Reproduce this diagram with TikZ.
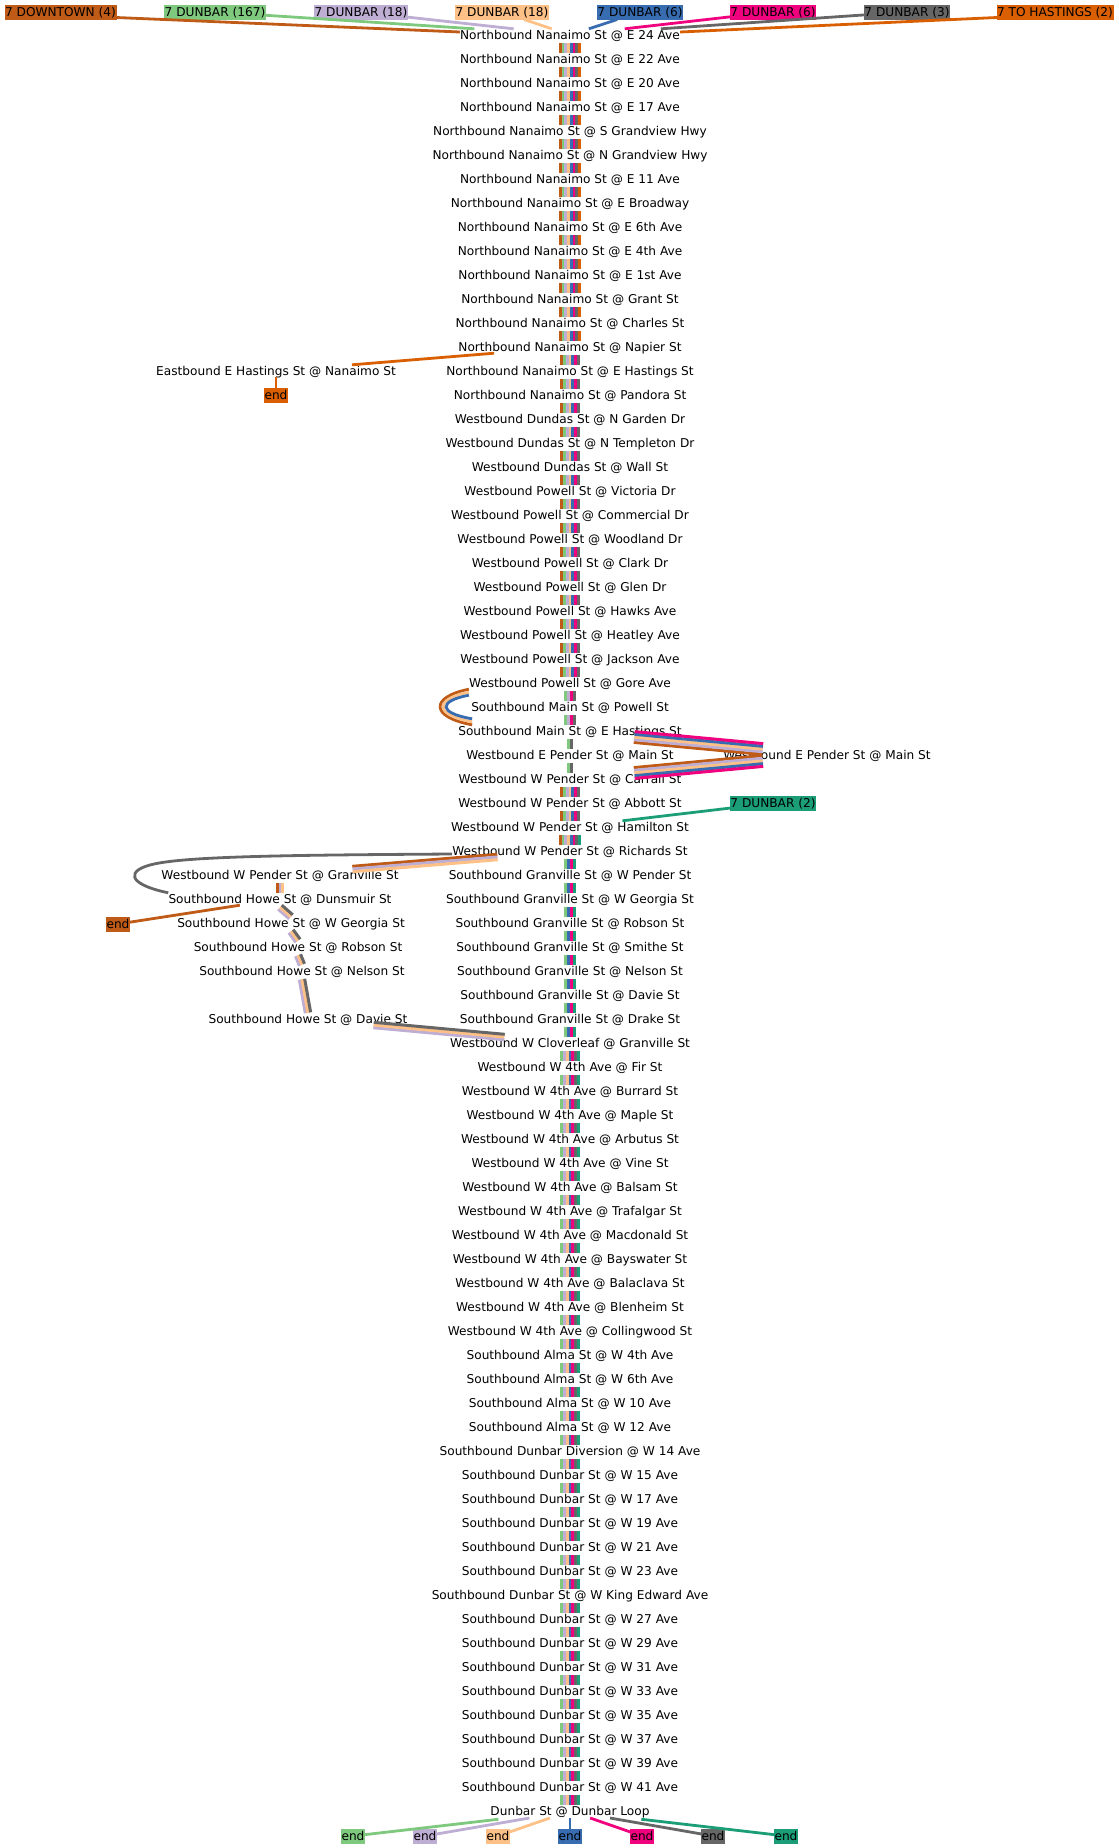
\documentclass[tikz,border=0pt]{standalone}
\usepackage{fontspec}
\setmainfont{DejaVu Sans}
\usetikzlibrary{calc}
\definecolor{cbrown}{HTML}{BF5B17}
\definecolor{cgreen}{HTML}{7FC97F}
\definecolor{clilac}{HTML}{BEAED4}
\definecolor{cpeach}{HTML}{FDC086}
\definecolor{cblue}{HTML}{386CB0}
\definecolor{cpink}{HTML}{F0027F}
\definecolor{cgray}{HTML}{666666}
\definecolor{corange}{HTML}{D95F02}
\definecolor{cteal}{HTML}{1B9E77}
\def\seteight{cbrown,cgreen,clilac,cpeach,cblue,cpink,cgray,corange}
\def\setseven{cbrown,cgreen,clilac,cpeach,cblue,cpink,cgray}
\def\setnine{cbrown,cgreen,clilac,cpeach,cblue,cpink,cgray,cteal}
\def\setfour{cgreen,clilac,cpink,cgray}
\def\settwo{cgreen,cgray}
\def\setgranville{cgreen,cblue,cpink,cteal}
\def\setdunbar{cgreen,clilac,cpeach,cblue,cpink,cgray,cteal}
\newcommand{\ribbon}[4]{
\foreach \c [count=\i] in #4 {
\pgfmathsetmacro{\off}{(\i-(#3+1)/2)*2.7}
\draw[stripe,\c] ($(#1)!\off pt!90:(#2)$) -- ($(#2)!\off pt!-90:(#1)$);
}
}
\newcommand{\stub}[4]{
\coordinate (p) at ([yshift=-2pt]#1.south);
\coordinate (q) at (#2.north);
\ribbon{p}{q}{#3}{#4}
}
\newcommand{\band}[4]{
\coordinate (p) at ($(#1)!.25!(#2)$);
\coordinate (q) at ($(#1)!.75!(#2)$);
\ribbon{p}{q}{#3}{#4}
}
\begin{document}
\begin{tikzpicture}[x=1pt,y=-1pt]
\tikzset{stopnode/.style={inner sep=0pt, minimum height=12pt, text height=10.2pt, text depth=1.8pt, font=\fontsize{12.15pt}{14pt}\selectfont}}
\tikzset{termbox/.style={stopnode, fill=#1, draw=#1, line width=0.5pt, inner xsep=0pt, minimum height=14.5pt}}
\tikzset{stripe/.style={line width=3pt}}
\tikzset{conn/.style={line width=2.8pt}}
\useasboundingbox (0,0) rectangle (1119,1848);
\node[termbox=cbrown] (T1) at (60.5,12) {7 DOWNTOWN (4)};
\node[termbox=cgreen] (T2) at (215,12) {7 DUNBAR (167)};
\node[termbox=clilac] (T3) at (361,12) {7 DUNBAR (18)};
\node[termbox=cpeach] (T4) at (502,12) {7 DUNBAR (18)};
\node[termbox=cblue] (T5) at (640,12) {7 DUNBAR (6)};
\node[termbox=cpink] (T6) at (773,12) {7 DUNBAR (6)};
\node[termbox=cgray] (T7) at (907,12) {7 DUNBAR (3)};
\node[termbox=corange] (T8) at (1055,12) {7 TO HASTINGS (2)};
\node[stopnode] (S1) at (570,35) {Northbound Nanaimo St @ E 24 Ave};
\node[stopnode] (S2) at (570,59) {Northbound Nanaimo St @ E 22 Ave};
\node[stopnode] (S3) at (570,83) {Northbound Nanaimo St @ E 20 Ave};
\node[stopnode] (S4) at (570,107) {Northbound Nanaimo St @ E 17 Ave};
\node[stopnode] (S5) at (570,131) {Northbound Nanaimo St @ S Grandview Hwy};
\node[stopnode] (S6) at (570,155) {Northbound Nanaimo St @ N Grandview Hwy};
\node[stopnode] (S7) at (570,179) {Northbound Nanaimo St @ E 11 Ave};
\node[stopnode] (S8) at (570,203) {Northbound Nanaimo St @ E Broadway};
\node[stopnode] (S9) at (570,227) {Northbound Nanaimo St @ E 6th Ave};
\node[stopnode] (S10) at (570,251) {Northbound Nanaimo St @ E 4th Ave};
\node[stopnode] (S11) at (570,275) {Northbound Nanaimo St @ E 1st Ave};
\node[stopnode] (S12) at (570,299) {Northbound Nanaimo St @ Grant St};
\node[stopnode] (S13) at (570,323) {Northbound Nanaimo St @ Charles St};
\node[stopnode] (S14) at (570,347) {Northbound Nanaimo St @ Napier St};
\node[stopnode] (S15) at (570,371) {Northbound Nanaimo St @ E Hastings St};
\node[stopnode] (S16) at (570,395) {Northbound Nanaimo St @ Pandora St};
\node[stopnode] (S17) at (570,419) {Westbound Dundas St @ N Garden Dr};
\node[stopnode] (S18) at (570,443) {Westbound Dundas St @ N Templeton Dr};
\node[stopnode] (S19) at (570,467) {Westbound Dundas St @ Wall St};
\node[stopnode] (S20) at (570,491) {Westbound Powell St @ Victoria Dr};
\node[stopnode] (S21) at (570,515) {Westbound Powell St @ Commercial Dr};
\node[stopnode] (S22) at (570,539) {Westbound Powell St @ Woodland Dr};
\node[stopnode] (S23) at (570,563) {Westbound Powell St @ Clark Dr};
\node[stopnode] (S24) at (570,587) {Westbound Powell St @ Glen Dr};
\node[stopnode] (S25) at (570,611) {Westbound Powell St @ Hawks Ave};
\node[stopnode] (S26) at (570,635) {Westbound Powell St @ Heatley Ave};
\node[stopnode] (S27) at (570,659) {Westbound Powell St @ Jackson Ave};
\node[stopnode] (S28) at (570,683) {Westbound Powell St @ Gore Ave};
\node[stopnode] (S29) at (570,707) {Southbound Main St @ Powell St};
\node[stopnode] (S30) at (570,731) {Southbound Main St @ E Hastings St};
\node[stopnode] (S31) at (570,755) {Westbound E Pender St @ Main St};
\node[stopnode] (S32) at (570,779) {Westbound W Pender St @ Carrall St};
\node[stopnode] (S33) at (570,803) {Westbound W Pender St @ Abbott St};
\node[stopnode] (S34) at (570,827) {Westbound W Pender St @ Hamilton St};
\node[stopnode] (S35) at (570,851) {Westbound W Pender St @ Richards St};
\node[stopnode] (S36) at (570,875) {Southbound Granville St @ W Pender St};
\node[stopnode] (S37) at (570,899) {Southbound Granville St @ W Georgia St};
\node[stopnode] (S38) at (570,923) {Southbound Granville St @ Robson St};
\node[stopnode] (S39) at (570,947) {Southbound Granville St @ Smithe St};
\node[stopnode] (S40) at (570,971) {Southbound Granville St @ Nelson St};
\node[stopnode] (S41) at (570,995) {Southbound Granville St @ Davie St};
\node[stopnode] (S42) at (570,1019) {Southbound Granville St @ Drake St};
\node[stopnode] (S43) at (570,1043) {Westbound W Cloverleaf @ Granville St};
\node[stopnode] (S44) at (570,1067) {Westbound W 4th Ave @ Fir St};
\node[stopnode] (S45) at (570,1091) {Westbound W 4th Ave @ Burrard St};
\node[stopnode] (S46) at (570,1115) {Westbound W 4th Ave @ Maple St};
\node[stopnode] (S47) at (570,1139) {Westbound W 4th Ave @ Arbutus St};
\node[stopnode] (S48) at (570,1163) {Westbound W 4th Ave @ Vine St};
\node[stopnode] (S49) at (570,1187) {Westbound W 4th Ave @ Balsam St};
\node[stopnode] (S50) at (570,1211) {Westbound W 4th Ave @ Trafalgar St};
\node[stopnode] (S51) at (570,1235) {Westbound W 4th Ave @ Macdonald St};
\node[stopnode] (S52) at (570,1259) {Westbound W 4th Ave @ Bayswater St};
\node[stopnode] (S53) at (570,1283) {Westbound W 4th Ave @ Balaclava St};
\node[stopnode] (S54) at (570,1307) {Westbound W 4th Ave @ Blenheim St};
\node[stopnode] (S55) at (570,1331) {Westbound W 4th Ave @ Collingwood St};
\node[stopnode] (S56) at (570,1355) {Southbound Alma St @ W 4th Ave};
\node[stopnode] (S57) at (570,1379) {Southbound Alma St @ W 6th Ave};
\node[stopnode] (S58) at (570,1403) {Southbound Alma St @ W 10 Ave};
\node[stopnode] (S59) at (570,1427) {Southbound Alma St @ W 12 Ave};
\node[stopnode] (S60) at (570,1451) {Southbound Dunbar Diversion @ W 14 Ave};
\node[stopnode] (S61) at (570,1475) {Southbound Dunbar St @ W 15 Ave};
\node[stopnode] (S62) at (570,1499) {Southbound Dunbar St @ W 17 Ave};
\node[stopnode] (S63) at (570,1523) {Southbound Dunbar St @ W 19 Ave};
\node[stopnode] (S64) at (570,1547) {Southbound Dunbar St @ W 21 Ave};
\node[stopnode] (S65) at (570,1571) {Southbound Dunbar St @ W 23 Ave};
\node[stopnode] (S66) at (570,1595) {Southbound Dunbar St @ W King Edward Ave};
\node[stopnode] (S67) at (570,1619) {Southbound Dunbar St @ W 27 Ave};
\node[stopnode] (S68) at (570,1643) {Southbound Dunbar St @ W 29 Ave};
\node[stopnode] (S69) at (570,1667) {Southbound Dunbar St @ W 31 Ave};
\node[stopnode] (S70) at (570,1691) {Southbound Dunbar St @ W 33 Ave};
\node[stopnode] (S71) at (570,1715) {Southbound Dunbar St @ W 35 Ave};
\node[stopnode] (S72) at (570,1739) {Southbound Dunbar St @ W 37 Ave};
\node[stopnode] (S73) at (570,1763) {Southbound Dunbar St @ W 39 Ave};
\node[stopnode] (S74) at (570,1787) {Southbound Dunbar St @ W 41 Ave};
\node[stopnode] (S75) at (570,1811) {Dunbar St @ Dunbar Loop};
\node[stopnode] (H1) at (276,371) {Eastbound E Hastings St @ Nanaimo St};
\node[termbox=corange] (X1) at (276,395) {end};
\node[stopnode] (P1) at (827,755) {Westbound E Pender St @ Main St};
\node[termbox=cteal] (T9) at (773,803) {7 DUNBAR (2)};
\node[stopnode] (W1) at (280,875) {Westbound W Pender St @ Granville St};
\node[stopnode] (W2) at (280,899) {Southbound Howe St @ Dunsmuir St};
\node[stopnode] (W3) at (291,923) {Southbound Howe St @ W Georgia St};
\node[stopnode] (W4) at (298,947) {Southbound Howe St @ Robson St};
\node[stopnode] (W5) at (302,971) {Southbound Howe St @ Nelson St};
\node[stopnode] (W6) at (308,1019) {Southbound Howe St @ Davie St};
\node[termbox=cbrown] (X2) at (118,924) {end};
\node[termbox=cgreen] (E1) at (353,1836) {end};
\node[termbox=clilac] (E2) at (425,1836) {end};
\node[termbox=cpeach] (E3) at (498,1836) {end};
\node[termbox=cblue] (E4) at (570,1836) {end};
\node[termbox=cpink] (E5) at (642,1836) {end};
\node[termbox=cgray] (E6) at (713,1836) {end};
\node[termbox=cteal] (E7) at (786,1836) {end};
\coordinate (L1) at (154,864);
\draw[conn,cbrown] ([yshift=2pt]T1.south east) -- ([yshift=3pt]S1.west);
\draw[conn,cgreen] (T2) -- (S1);
\draw[conn,clilac] (T3) -- (S1);
\draw[conn,cpeach] (T4) -- (S1);
\draw[conn,cblue] (T5) -- (S1);
\draw[conn,cpink] (T6) -- (S1);
\draw[conn,cgray] (T7) -- (S1);
\draw[conn,corange] ([yshift=2pt]T8.south west) -- ([yshift=3pt]S1.east);
\stub{S1}{S2}{8}{\seteight}
\stub{S2}{S3}{8}{\seteight}
\stub{S3}{S4}{8}{\seteight}
\stub{S4}{S5}{8}{\seteight}
\stub{S5}{S6}{8}{\seteight}
\stub{S6}{S7}{8}{\seteight}
\stub{S7}{S8}{8}{\seteight}
\stub{S8}{S9}{8}{\seteight}
\stub{S9}{S10}{8}{\seteight}
\stub{S10}{S11}{8}{\seteight}
\stub{S11}{S12}{8}{\seteight}
\stub{S12}{S13}{8}{\seteight}
\stub{S13}{S14}{8}{\seteight}
\draw[conn,corange] (S14) -- (H1);
\draw[conn,corange] (H1) -- (X1);
\stub{S14}{S15}{7}{\setseven}
\stub{S15}{S16}{7}{\setseven}
\stub{S16}{S17}{7}{\setseven}
\stub{S17}{S18}{7}{\setseven}
\stub{S18}{S19}{7}{\setseven}
\stub{S19}{S20}{7}{\setseven}
\stub{S20}{S21}{7}{\setseven}
\stub{S21}{S22}{7}{\setseven}
\stub{S22}{S23}{7}{\setseven}
\stub{S23}{S24}{7}{\setseven}
\stub{S24}{S25}{7}{\setseven}
\stub{S25}{S26}{7}{\setseven}
\stub{S26}{S27}{7}{\setseven}
\stub{S27}{S28}{7}{\setseven}
\stub{S28}{S29}{4}{\setfour}
\stub{S29}{S30}{4}{\setfour}
\draw[conn,cbrown] (S28.south west) .. controls (430,697) and (430,717) .. ([xshift=14pt]S30.north west);
\draw[conn,cpeach] ([yshift=-3pt]S28.south west) .. controls (434,699) and (434,715) .. ([xshift=14pt,yshift=3pt]S30.north west);
\draw[conn,cblue] ([yshift=-6pt]S28.south west) .. controls (438,701) and (438,713) .. ([xshift=14pt,yshift=6pt]S30.north west);
\stub{S30}{S31}{2}{\settwo}
\stub{S31}{S32}{2}{\settwo}
\band{S30}{P1}{5}{{cbrown,clilac,cpeach,cblue,cpink}}
\band{P1}{S32}{5}{{cbrown,clilac,cpeach,cblue,cpink}}
\stub{S32}{S33}{7}{\setseven}
\stub{S33}{S34}{7}{\setseven}
\draw[conn,cteal] (T9) -- (S34);
\stub{S34}{S35}{8}{\setnine}
\draw[conn,cgray] ([yshift=-3pt]S35.west) .. controls (300,855) and (190,856) .. (L1) .. controls (126,870) and (126,884) .. (W2.north west);
\band{S35}{W1}{3}{{cbrown,clilac,cpeach}}
\stub{W1}{W2}{3}{{cbrown,clilac,cpeach}}
\draw[conn,cbrown] (W2) -- (X2);
\stub{W2}{W3}{3}{{clilac,cpeach,cgray}}
\stub{W3}{W4}{3}{{clilac,cpeach,cgray}}
\stub{W4}{W5}{3}{{clilac,cpeach,cgray}}
\stub{W5}{W6}{3}{{clilac,cpeach,cgray}}
\band{W6}{S43}{3}{{clilac,cpeach,cgray}}
\stub{S35}{S36}{4}{\setgranville}
\stub{S36}{S37}{4}{\setgranville}
\stub{S37}{S38}{4}{\setgranville}
\stub{S38}{S39}{4}{\setgranville}
\stub{S39}{S40}{4}{\setgranville}
\stub{S40}{S41}{4}{\setgranville}
\stub{S41}{S42}{4}{\setgranville}
\stub{S42}{S43}{4}{\setgranville}
\stub{S43}{S44}{7}{\setdunbar}
\stub{S44}{S45}{7}{\setdunbar}
\stub{S45}{S46}{7}{\setdunbar}
\stub{S46}{S47}{7}{\setdunbar}
\stub{S47}{S48}{7}{\setdunbar}
\stub{S48}{S49}{7}{\setdunbar}
\stub{S49}{S50}{7}{\setdunbar}
\stub{S50}{S51}{7}{\setdunbar}
\stub{S51}{S52}{7}{\setdunbar}
\stub{S52}{S53}{7}{\setdunbar}
\stub{S53}{S54}{7}{\setdunbar}
\stub{S54}{S55}{7}{\setdunbar}
\stub{S55}{S56}{7}{\setdunbar}
\stub{S56}{S57}{7}{\setdunbar}
\stub{S57}{S58}{7}{\setdunbar}
\stub{S58}{S59}{7}{\setdunbar}
\stub{S59}{S60}{7}{\setdunbar}
\stub{S60}{S61}{7}{\setdunbar}
\stub{S61}{S62}{7}{\setdunbar}
\stub{S62}{S63}{7}{\setdunbar}
\stub{S63}{S64}{7}{\setdunbar}
\stub{S64}{S65}{7}{\setdunbar}
\stub{S65}{S66}{7}{\setdunbar}
\stub{S66}{S67}{7}{\setdunbar}
\stub{S67}{S68}{7}{\setdunbar}
\stub{S68}{S69}{7}{\setdunbar}
\stub{S69}{S70}{7}{\setdunbar}
\stub{S70}{S71}{7}{\setdunbar}
\stub{S71}{S72}{7}{\setdunbar}
\stub{S72}{S73}{7}{\setdunbar}
\stub{S73}{S74}{7}{\setdunbar}
\stub{S74}{S75}{7}{\setdunbar}
\draw[conn,cgreen] ($(S75)!.33!(E1)$) -- (E1);
\draw[conn,clilac] ($(S75)!.28!(E2)$) -- (E2);
\draw[conn,cpeach] ($(S75)!.28!(E3)$) -- (E3);
\draw[conn,cblue] ($(S75)!.28!(E4)$) -- (E4);
\draw[conn,cpink] ($(S75)!.28!(E5)$) -- (E5);
\draw[conn,cgray] ($(S75)!.28!(E6)$) -- (E6);
\draw[conn,cteal] ($(S75)!.33!(E7)$) -- (E7);
\end{tikzpicture}
\end{document}
